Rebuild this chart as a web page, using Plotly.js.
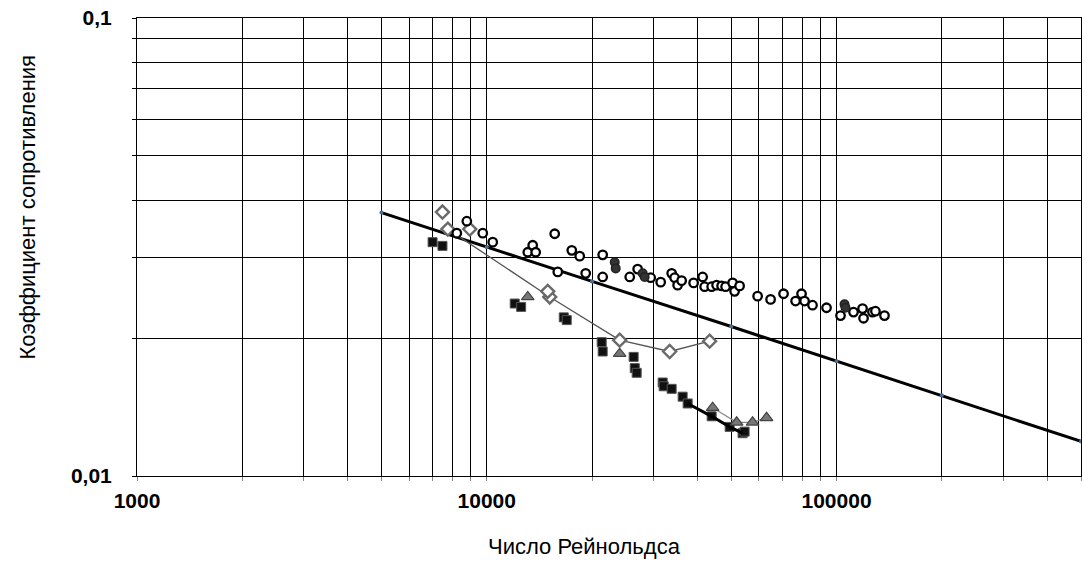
<!DOCTYPE html>
<html>
<head>
<meta charset="utf-8">
<script src="https://cdn.plot.ly/plotly-3.0.1.min.js"></script>
<style>html,body{margin:0;padding:0;background:#fff;}#chart{width:1082px;height:578px;}</style>
</head>
<body>
<div id="chart"></div>
<script>
// Blasius-type reference line
const lineRe = [5000, 10000, 20000, 50000, 100000, 200000, 500000];
const lineLambda = [0.0376, 0.0316, 0.0266, 0.0212, 0.0178, 0.0150, 0.0119];

// Open circles
const circRe = [8770, 8210, 9740, 10400, 13100, 13530, 13800, 15640, 15960, 17500, 18440, 19180, 21450, 21450, 25630, 27000, 29420, 31420, 33780, 34450, 35130, 36070, 39030, 41420, 41970, 43950, 45410, 46930, 48180, 50460, 51120, 52830, 59480, 64780, 70560, 76370, 79430, 81020, 85380, 93630, 102660, 111840, 118690, 119460, 126700, 129210, 137140];
const circLambda = [0.0360, 0.0339, 0.0339, 0.0324, 0.0308, 0.0319, 0.0308, 0.0338, 0.0279, 0.0311, 0.0302, 0.0277, 0.0304, 0.0272, 0.0272, 0.0283, 0.0271, 0.0265, 0.0277, 0.0271, 0.0261, 0.0267, 0.0264, 0.0272, 0.0259, 0.0259, 0.0261, 0.0260, 0.0259, 0.0264, 0.0253, 0.0260, 0.0247, 0.0243, 0.0250, 0.0241, 0.0250, 0.0241, 0.0236, 0.0233, 0.0224, 0.0228, 0.0232, 0.0221, 0.0228, 0.0229, 0.0224];

// Dark filled points among circles
const darkRe = [23220, 23370, 27910, 28280, 105400, 106100];
const darkLambda = [0.0293, 0.0284, 0.0277, 0.0272, 0.0237, 0.0233];

// Diamonds (connected by thin line)
const diaLineRe = [7740, 15140, 23990, 33340, 43370];
const diaLineLambda = [0.0346, 0.0246, 0.0198, 0.0187, 0.0197];
// Diamonds (markers only)
const diaRe = [7470, 8940, 14940];
const diaLambda = [0.0377, 0.0346, 0.0253];

// Black squares
const sqRe = [7000, 7470, 12020, 12540, 16600, 16930, 21310, 21450, 26300, 26490, 26830, 31840, 32050, 33780, 36310, 37530, 43950, 49470, 53880, 54600];
const sqLambda = [0.0324, 0.0318, 0.0238, 0.0234, 0.0222, 0.0219, 0.0196, 0.0187, 0.0182, 0.0172, 0.0168, 0.0160, 0.0157, 0.0155, 0.0149, 0.0144, 0.0135, 0.0128, 0.0124, 0.0125];
const sqLineRe = [37530, 43950, 49470, 53880];
const sqLineLambda = [0.0144, 0.0135, 0.0128, 0.0124];

// Grey triangles
const triRe = [13100, 23990, 44240, 51810, 57540, 63100];
const triLambda = [0.0246, 0.0185, 0.0141, 0.0131, 0.0131, 0.0134];
const triLineRe = [44240, 51810, 57540, 63100];
const triLineLambda = [0.0141, 0.0131, 0.0131, 0.0134];

// Axis ticks
const xTickVals = [1000,2000,3000,4000,5000,6000,7000,8000,9000,10000,20000,30000,40000,50000,60000,70000,80000,90000,100000,200000,300000,400000,500000];
const xTickText = ['1000','','','','','','','','','10000','','','','','','','','','100000','','','',''];
const yTickVals = [0.01,0.02,0.03,0.04,0.05,0.06,0.07,0.08,0.09,0.1];
const yTickText = ['0,01','','','','','','','','','0,1'];

const xTitle = 'Число Рейнольдса';
const yTitle = 'Коэффициент сопротивления';

const traces = [
  {x: lineRe, y: lineLambda, mode: 'lines+markers', line: {color: '#000', width: 3},
   marker: {color: '#4a6f96', size: 4}, hoverinfo: 'skip'},
  {x: triLineRe, y: triLineLambda, mode: 'lines', line: {color: '#888', width: 1.2}},
  {x: diaLineRe, y: diaLineLambda, mode: 'lines+markers', line: {color: '#555', width: 1.3},
   marker: {symbol: 'diamond', size: 10, color: '#fff', line: {color: '#6a6a6a', width: 2.4}}},
  {x: diaRe, y: diaLambda, mode: 'markers',
   marker: {symbol: 'diamond', size: 10, color: '#fff', line: {color: '#6a6a6a', width: 2.4}}},
  {x: sqRe, y: sqLambda, mode: 'markers',
   marker: {symbol: 'square', size: 9, color: '#111', line: {color: '#555', width: 1}}},
  {x: sqLineRe, y: sqLineLambda, mode: 'lines', line: {color: '#000', width: 3}},
  {x: triRe, y: triLambda, mode: 'markers',
   marker: {symbol: 'triangle-up', size: 11, color: '#777', line: {color: '#444', width: 1.2}}},
  {x: circRe, y: circLambda, mode: 'markers',
   marker: {symbol: 'circle', size: 8.5, color: '#fff', line: {color: '#000', width: 2.3}}},
  {x: darkRe, y: darkLambda, mode: 'markers',
   marker: {symbol: 'circle', size: 8.5, color: '#333', line: {color: '#222', width: 1.5}}}
];

const layout = {
  width: 1082, height: 578,
  margin: {l: 137, r: 1, t: 18, b: 102},
  paper_bgcolor: '#fff', plot_bgcolor: '#fff',
  showlegend: false,
  font: {family: 'Liberation Sans, Arial, sans-serif', color: '#000'},
  xaxis: {
    type: 'log', range: [3, Math.log10(500000)],
    tickmode: 'array', tickvals: xTickVals, ticktext: xTickText,
    showgrid: true, gridcolor: '#000', gridwidth: 1,
    showline: true, linecolor: '#000', linewidth: 1, mirror: true,
    ticks: 'outside', ticklen: 4, tickcolor: '#888',
    ticklabelstandoff: 2,
    tickfont: {size: 21, family: 'Liberation Sans, Arial, sans-serif', weight: 'bold'},
    zeroline: false
  },
  yaxis: {
    type: 'log', range: [-2, -1],
    tickmode: 'array', tickvals: yTickVals, ticktext: yTickText,
    showgrid: true, gridcolor: '#000', gridwidth: 1,
    showline: true, linecolor: '#000', linewidth: 1, mirror: true,
    ticks: 'outside', ticklen: 4, tickcolor: '#000',
    ticklabelstandoff: 16,
    tickfont: {size: 21, family: 'Liberation Sans, Arial, sans-serif', weight: 'bold'},
    zeroline: false
  },
  annotations: [
    {text: xTitle, xref: 'paper', yref: 'paper', x: (584 - 137) / 944, y: -0.155,
     xanchor: 'center', yanchor: 'middle', showarrow: false,
     font: {size: 22, family: 'Liberation Sans, Arial, sans-serif'}},
    {text: yTitle, xref: 'paper', yref: 'paper', x: -0.117, y: (476 - 207) / 458,
     xanchor: 'center', yanchor: 'middle', showarrow: false, textangle: -90,
     font: {size: 22, family: 'Liberation Sans, Arial, sans-serif'}}
  ]
};

Plotly.newPlot('chart', traces, layout, {displayModeBar: false, staticPlot: true});
</script>
</body>
</html>
